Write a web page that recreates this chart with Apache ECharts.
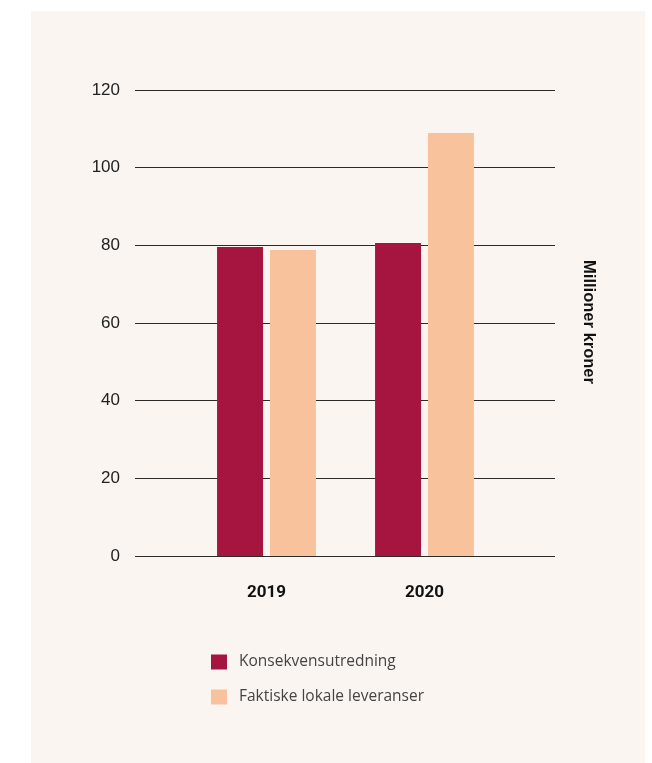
<!DOCTYPE html>
<html>
<head>
<meta charset="utf-8">
<script src="https://cdn.jsdelivr.net/npm/echarts@6/dist/echarts.min.js"></script>
<style>
  html, body { margin: 0; padding: 0; background: #ffffff; }
  #chart { width: 652px; height: 763px; }
</style>
</head>
<body>
<div id="chart"></div>
<script>
// Budget figures in millions of NOK
const years = ['2019', '2020'];
const konsekvensutredning = [79.6, 80.6];
const faktiskeLeveranser = [78.8, 108.9];
const yTicks = { min: 0, max: 120, interval: 20 };
const seriesNames = ['Konsekvensutredning', 'Faktiske lokale leveranser'];
const colors = ['#A6153F', '#F8C39C'];

const FONT = 'Roboto, "Liberation Sans", Arial, sans-serif';
const FONT_WIDE = '"Liberation Sans", Arial, sans-serif';
const FONT_LEGEND = '"Open Sans", "Liberation Sans", Arial, sans-serif';
const chart = echarts.init(document.getElementById('chart'), null, { renderer: 'canvas' });

const plotTop = 90, plotBottom = 763 - 556;

chart.setOption({
  backgroundColor: '#ffffff',
  animation: false,
  graphic: [
    {
      type: 'rect', z: -10, silent: true,
      shape: { x: 31, y: 11, width: 614, height: 752 },
      style: { fill: '#FAF5F1' }
    },
    {
      type: 'text', silent: true,
      x: 589, y: 322, rotation: -Math.PI / 2,
      style: {
        text: 'Millioner kroner', fill: '#111', font: 'bold 16.5px ' + FONT_WIDE,
        textAlign: 'center', textVerticalAlign: 'middle'
      }
    }
  ],
  legend: {
    orient: 'vertical', left: 206, top: 649,
    itemWidth: 16, itemHeight: 15, itemGap: 19,
    icon: 'rect',
    textStyle: { fontFamily: FONT_LEGEND, fontSize: 15.5, color: '#444', padding: [0, 0, 0, 7] },
    data: seriesNames
  },
  grid: [
    // full-width grid carrying the horizontal reference lines and tick labels
    { left: 135, right: 652 - 555, top: plotTop, bottom: plotBottom },
    // narrower grid holding the bars
    { left: 187.5, right: 652 - 503.5, top: plotTop, bottom: plotBottom }
  ],
  xAxis: [
    { gridIndex: 0, type: 'category', data: years, show: false },
    {
      gridIndex: 1, type: 'category', data: years,
      axisLine: { show: false }, axisTick: { show: false },
      axisLabel: { fontFamily: FONT, fontSize: 17, fontWeight: 'bold', color: '#111', margin: 28 }
    }
  ],
  yAxis: [
    {
      gridIndex: 0, type: 'value', min: yTicks.min, max: yTicks.max, interval: yTicks.interval,
      axisLine: { show: false }, axisTick: { show: false },
      axisLabel: { fontFamily: FONT_WIDE, fontSize: 17, color: '#222', margin: 15 },
      splitLine: { lineStyle: { color: '#2a2a2a', width: 1 } }
    },
    {
      gridIndex: 1, type: 'value', min: yTicks.min, max: yTicks.max, interval: yTicks.interval,
      show: false, splitLine: { show: false }
    }
  ],
  series: [
    {
      name: seriesNames[0], type: 'bar', xAxisIndex: 1, yAxisIndex: 1,
      data: konsekvensutredning, itemStyle: { color: colors[0] },
      barWidth: 46, barGap: '15%', z: 3
    },
    {
      name: seriesNames[1], type: 'bar', xAxisIndex: 1, yAxisIndex: 1,
      data: faktiskeLeveranser, itemStyle: { color: colors[1] },
      barWidth: 46, barGap: '15%', z: 3
    }
  ]
});
</script>
</body>
</html>
